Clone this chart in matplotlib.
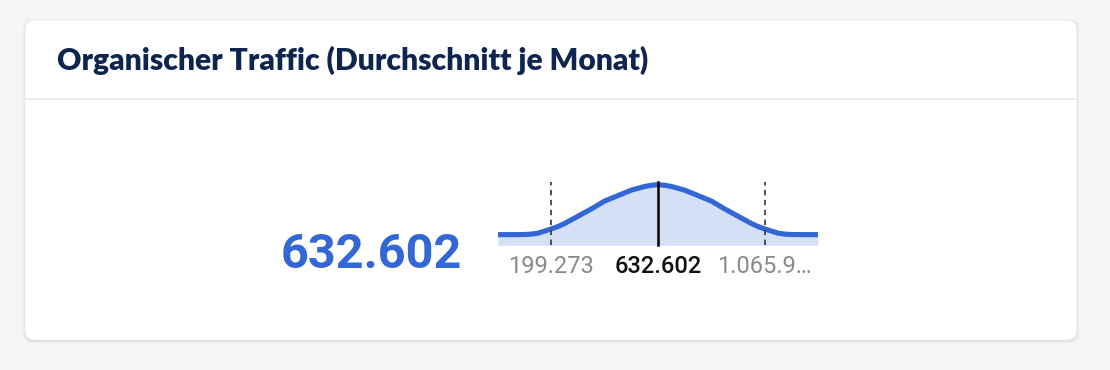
"""Organischer Traffic – Verteilungskarte als PNG."""

import matplotlib

matplotlib.use("Agg")
import matplotlib.pyplot as plt  # noqa: E402
from matplotlib.patches import FancyBboxPatch  # noqa: E402

# Werte
title = "Organischer Traffic (Durchschnitt je Monat)"
mean_value = 632602
std_value = 433329
low_value = 199273
high_value = 1065931
low_label = "199.273"
mean_label = "632.602"
high_label = "1.065.9…"

# Kurve: Abstand vom Mittelwert (in Standardabweichungen) und relative Höhe,
# vom Bild abgelesen
curve_k = [-1.5, -1.375, -1.25, -1.1875, -1.125, -1.0625, -1.0, -0.9375,
           -0.875, -0.8125, -0.75, -0.6875, -0.625, -0.5625, -0.5, -0.4375,
           -0.375, -0.3125, -0.25, -0.1875, -0.125, -0.0625, 0.0,
           0.0625, 0.125, 0.1875, 0.25, 0.3125, 0.375, 0.4375, 0.5,
           0.5625, 0.625, 0.6875, 0.75, 0.8125, 0.875, 0.9375, 1.0,
           1.0625, 1.125, 1.1875, 1.25, 1.375, 1.5]
curve_y = [0.176, 0.176, 0.178, 0.185, 0.20, 0.235, 0.27, 0.31,
           0.36, 0.42, 0.48, 0.54, 0.60, 0.665, 0.73, 0.775,
           0.82, 0.865, 0.91, 0.94, 0.97, 0.99, 1.0,
           0.99, 0.97, 0.94, 0.91, 0.865, 0.82, 0.775, 0.73,
           0.665, 0.60, 0.54, 0.48, 0.42, 0.36, 0.31, 0.27,
           0.235, 0.20, 0.185, 0.178, 0.176, 0.176]
curve_x = [mean_value + k * std_value for k in curve_k]

W, H = 1110, 370
BLUE = "#3367d6"
NAVY = "#0e2550"

fig = plt.figure(figsize=(W / 100, H / 100), dpi=100)
fig.patch.set_facecolor("#f5f5f5")

# Hintergrund-Achse in Pixelkoordinaten
bg = fig.add_axes([0, 0, 1, 1])
bg.set_xlim(0, W)
bg.set_ylim(H, 0)
bg.axis("off")

# Schatten + Karte
for i, a in enumerate([0.05, 0.04, 0.03]):
    d = 1 + i
    bg.add_patch(FancyBboxPatch((25 - d + 1, 20 - d + 2), 1052 + 2 * d - 2, 320 + 2 * d - 2,
                                boxstyle="round,pad=0,rounding_size=10",
                                fc="black", ec="none", alpha=a))
bg.add_patch(FancyBboxPatch((25, 20), 1052, 320,
                            boxstyle="round,pad=0,rounding_size=10",
                            fc="white", ec="#ececec", lw=0.6))
bg.plot([25, 1077], [99, 99], color="#e8e8e8", lw=1.2)

bg.text(57, 60, title, fontsize=21.6, fontweight="heavy", color=NAVY,
        family=["Lato", "DejaVu Sans"], va="center", ha="left")
bg.text(371, 255, mean_label, fontsize=35, fontweight="bold", color=BLUE,
        family=["Roboto", "DejaVu Sans"], va="center", ha="center")

# Verteilungskurve
ax = fig.add_axes([498 / W, (H - 245.3) / H, 320 / W, (245.3 - 178.6) / H])
ax.set_xlim(curve_x[0], curve_x[-1])
ax.set_ylim(0, 1.1)
ax.axis("off")
ax.fill_between(curve_x, curve_y, 0, color="#d5e0f5", lw=0)
ax.plot(curve_x, curve_y, color=BLUE, lw=3.7, solid_joinstyle="round",
        solid_capstyle="butt", clip_on=False)
for v in (low_value, high_value):
    ax.plot([v, v], [0, 1.05], color="#444444", lw=1.3, ls=(0, (3, 2.5)),
            clip_on=False)
ax.plot([mean_value, mean_value], [0, 1.04], color="black", lw=1.8, clip_on=False)

for v, lab, col, wt in ((low_value, low_label, "#8a8a8a", "normal"),
                        (mean_value, mean_label, "#111111", "medium"),
                        (high_value, high_label, "#8a8a8a", "normal")):
    ax.text(v, -0.35, lab, fontsize=17, color=col, ha="center", va="center",
            fontweight=wt, family=["Roboto", "DejaVu Sans"], clip_on=False)

fig.savefig("out.png", dpi=100, facecolor=fig.get_facecolor())
